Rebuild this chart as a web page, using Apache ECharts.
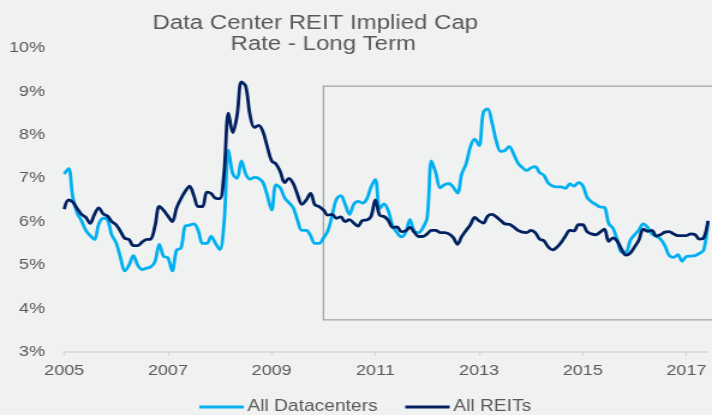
<!DOCTYPE html>
<html>
<head>
<meta charset="utf-8">
<script src="https://cdn.jsdelivr.net/npm/echarts@6/dist/echarts.min.js"></script>
<style>
  html, body { margin: 0; padding: 0; background: #f0f2f2; overflow: hidden; }
  /* the chart is laid out at 593px wide and stretched to fill 712px */
  #chart { width: 593px; height: 415px; transform: scaleX(1.2007); transform-origin: 0 0; }
</style>
</head>
<body>
<div id="chart"></div>
<script>
// Monthly observations, Jan 2005 – Jun 2017
const startYear = 2005;
const monthCount = 150;

// Implied cap rate (%), all data center REITs
const allDatacenters = [
  7.1, 7.22, 6.55, 6.2, 6.02, 5.8, 5.68, 5.59, 5.95, 6.08, 6.05, 5.69,
  5.52, 5.18, 4.87, 5.0, 5.22, 5.0, 4.9, 4.93, 4.96, 5.08, 5.48, 5.2,
  5.17, 4.87, 5.35, 5.39, 5.9, 5.92, 5.95, 5.8, 5.5, 5.5, 5.66, 5.5,
  5.36, 6.0, 7.65, 7.1, 7.0, 7.4, 7.1, 6.98, 7.02, 7.0, 6.9, 6.6,
  6.27, 6.85, 6.78, 6.55, 6.44, 6.32, 6.03, 5.8, 5.8, 5.68, 5.5, 5.5,
  5.63, 5.79, 6.15, 6.52, 6.6, 6.4, 6.17, 6.4, 6.47, 6.43, 6.52, 6.8,
  6.97, 6.3, 6.41, 6.25, 5.9, 5.75, 5.65, 5.75, 6.05, 5.78, 5.75, 5.86,
  6.1, 7.4, 7.12, 6.78, 6.85, 6.88, 6.8, 6.66, 7.1, 7.33, 7.73, 7.9,
  7.75, 8.52, 8.6, 8.28, 7.85, 7.62, 7.64, 7.73, 7.56, 7.35, 7.25, 7.18,
  7.24, 7.27, 7.13, 7.07, 6.89, 6.82, 6.8, 6.8, 6.77, 6.87, 6.82, 6.9,
  6.83, 6.56, 6.46, 6.4, 6.34, 6.33, 5.96, 5.85, 5.58, 5.3, 5.3, 5.57,
  5.7, 5.81, 5.95, 5.87, 5.72, 5.67, 5.6, 5.45, 5.22, 5.18, 5.24, 5.09,
  5.2, 5.21, 5.22, 5.27, 5.35, 6.02
];

// Implied cap rate (%), all REITs
const allREITs = [
  6.29, 6.5, 6.45, 6.3, 6.17, 6.1, 5.96, 6.17, 6.32, 6.18, 6.13, 6.0,
  5.93, 5.78, 5.62, 5.59, 5.45, 5.45, 5.53, 5.59, 5.6, 5.9, 6.35, 6.26,
  6.13, 6.0, 6.32, 6.53, 6.7, 6.82, 6.6, 6.35, 6.35, 6.68, 6.65, 6.54,
  6.53, 7.15, 8.5, 8.05, 8.45, 9.22, 9.12, 8.45, 8.17, 8.22, 8.07, 7.72,
  7.4, 7.33, 7.15, 6.9, 7.0, 6.88, 6.62, 6.4, 6.5, 6.65, 6.39, 6.35,
  6.27, 6.15, 6.17, 6.08, 6.11, 6.0, 6.05, 5.97, 5.9, 6.03, 6.04, 6.12,
  6.5, 6.15, 6.12, 6.03, 5.87, 5.88, 5.77, 5.79, 5.87, 5.76, 5.66, 5.66,
  5.72, 5.8, 5.8, 5.75, 5.75, 5.72, 5.64, 5.48, 5.66, 5.8, 5.93, 6.1,
  6.02, 5.97, 6.13, 6.17, 6.11, 6.03, 5.95, 5.94, 5.88, 5.8, 5.76, 5.75,
  5.8, 5.75, 5.6, 5.56, 5.42, 5.35, 5.41, 5.52, 5.67, 5.8, 5.79, 5.93,
  5.93, 5.77, 5.72, 5.7, 5.76, 5.83, 5.55, 5.63, 5.55, 5.36, 5.23, 5.28,
  5.42, 5.58, 5.83, 5.78, 5.8, 5.67, 5.7, 5.76, 5.77, 5.72, 5.68, 5.68,
  5.68, 5.72, 5.7, 5.6, 5.63, 6.02
];

// Y axis range (%)
const yMin = 3, yMax = 10, yStep = 1;

// Highlighted period: from Jan 2010 onward, between these rates
const boxStart = '2010-01';
const boxLow = 3.74, boxHigh = 9.12;

const months = [];
for (let i = 0; i < monthCount; i++) {
  const y = startYear + Math.floor(i / 12);
  const m = (i % 12) + 1;
  months.push(y + '-' + (m < 10 ? '0' + m : m));
}

const everyOtherJanuary = (idx) => idx % 24 === 0;
const textColor = '#595959';
const font = 'Liberation Sans, Arial, sans-serif';
const lightBlue = '#00b0f0';
const darkBlue = '#002060';

const chart = echarts.init(document.getElementById('chart'), null, { renderer: 'canvas' });

chart.setOption({
  backgroundColor: '#f0f2f2',
  animation: false,
  title: [
    { text: 'Data Center REIT Implied Cap', left: 122, top: 8,
      textStyle: { fontFamily: font, fontSize: 20, fontWeight: 'normal', color: textColor } },
    { text: 'Rate - Long Term', left: 187, top: 29,
      textStyle: { fontFamily: font, fontSize: 20, fontWeight: 'normal', color: textColor } }
  ],
  grid: { left: 53.5, right: 3.3, top: 48, bottom: 63, containLabel: false },
  legend: {
    left: 161, top: 394,
    icon: 'rect',
    itemWidth: 37, itemHeight: 3, itemGap: 23,
    textStyle: { fontFamily: font, fontSize: 16, color: textColor, padding: [0, 0, 0, -2] },
    data: ['All Datacenters', 'All REITs']
  },
  xAxis: {
    type: 'category',
    data: months,
    boundaryGap: false,
    axisLine: { lineStyle: { color: '#d6d6d6', width: 1.5 } },
    axisTick: { show: true, interval: everyOtherJanuary, length: 4, lineStyle: { color: '#d6d6d6', width: 1.2 } },
    axisLabel: {
      interval: everyOtherJanuary, margin: 11,
      fontFamily: font, fontSize: 15, color: textColor,
      formatter: (v) => v.slice(0, 4)
    },
    splitLine: { show: false }
  },
  yAxis: {
    type: 'value',
    min: yMin, max: yMax, interval: yStep,
    axisLine: { show: false },
    axisTick: { show: false },
    splitLine: { show: false },
    axisLabel: { formatter: '{value}%', margin: 16, fontFamily: font, fontSize: 15, color: textColor }
  },
  series: [
    {
      name: 'All Datacenters', type: 'line', data: allDatacenters,
      smooth: 0.35, symbol: 'none',
      lineStyle: { color: lightBlue, width: 2.8 },
      itemStyle: { color: lightBlue }
    },
    {
      name: 'All REITs', type: 'line', data: allREITs,
      smooth: 0.35, symbol: 'none',
      lineStyle: { color: darkBlue, width: 2.8 },
      itemStyle: { color: darkBlue }
    }
  ]
});

// Outline box around the post-2010 period, running off the right edge
const tl = chart.convertToPixel({ xAxisIndex: 0, yAxisIndex: 0 }, [boxStart, boxHigh]);
const bl = chart.convertToPixel({ xAxisIndex: 0, yAxisIndex: 0 }, [boxStart, boxLow]);
chart.setOption({
  graphic: [{
    type: 'rect', z: 1, silent: true,
    shape: { x: tl[0], y: tl[1], width: chart.getWidth() + 20 - tl[0], height: bl[1] - tl[1] },
    style: { fill: 'none', stroke: '#a3a3a3', lineWidth: 1.3 }
  }]
});
</script>
</body>
</html>
